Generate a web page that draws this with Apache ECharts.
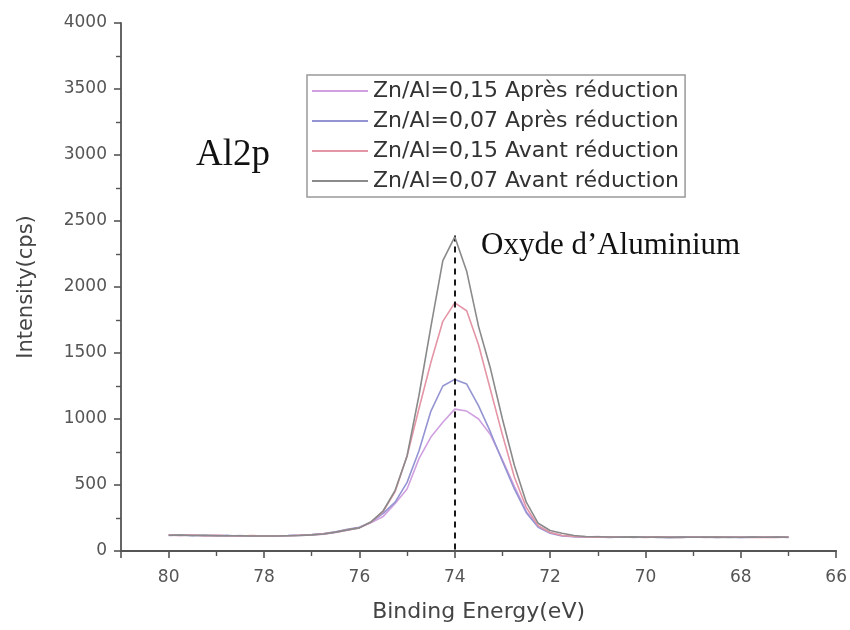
<!DOCTYPE html>
<html>
<head>
<meta charset="utf-8">
<script src="https://cdn.jsdelivr.net/npm/echarts@6/dist/echarts.min.js"></script>
<style>html,body{margin:0;padding:0;background:#fff}#c{width:850px;height:630px}</style>
</head>
<body>
<div id="c"></div>
<script>
const energies = [80,79.75,79.5,79.25,79,78.75,78.5,78.25,78,77.75,77.5,77.25,77,76.75,76.5,76.25,76,75.75,75.5,75.25,75,74.75,74.5,74.25,74,73.75,73.5,73.25,73,72.75,72.5,72.25,72,71.75,71.5,71.25,71,70.75,70.5,70.25,70,69.75,69.5,69.25,69,68.75,68.5,68.25,68,67.75,67.5,67.25,67];
const seriesNames = ["Zn/Al=0,15 Après réduction","Zn/Al=0,07 Après réduction","Zn/Al=0,15 Avant réduction","Zn/Al=0,07 Avant réduction"];
const apres015 = [122,118,121,116,119,114,117,112,115,113,116,118,121,128,140,158,178,215,262,360,470,700,863,975,1075,1060,1000,880,690,490,300,190,140,118,110,106,109,104,108,103,107,105,102,106,104,108,103,106,102,105,107,104,108];
const apres007 = [118,121,116,119,115,118,113,116,112,115,117,120,124,132,145,165,180,220,285,370,520,760,1060,1250,1300,1265,1100,900,680,470,290,180,135,114,108,105,107,103,106,104,108,102,105,103,107,104,102,106,103,105,104,107,103];
const avant015 = [120,117,121,115,118,116,114,117,113,116,115,119,123,130,142,160,175,220,300,450,720,1080,1430,1740,1880,1820,1560,1220,880,560,330,190,140,118,110,107,105,108,104,106,103,107,105,102,106,103,107,104,106,102,105,103,106];
const avant007 = [119,120,117,118,116,115,115,114,114,114,116,117,122,129,143,160,175,222,305,460,720,1180,1700,2200,2380,2120,1700,1380,1000,650,370,210,155,135,118,110,108,106,105,107,104,106,103,105,104,106,105,103,104,106,104,105,104];
const colors = ["#d0a0e0","#9494d2","#e495a6","#8a8a8a"];
const yTicks = {min:0, max:4000, interval:500};
const xTicks = {min:66, max:81, interval:2};
const peakMarker = {x:74, y:2390, label:"Oxyde d\u2019Aluminium"};
const panelLabel = "Al2p";

const allData = [apres015, apres007, avant015, avant007];
const chart = echarts.init(document.getElementById('c'), null, {renderer:'canvas'});
const series = allData.map((vals,i)=>({
  name: seriesNames[i],
  type:'line',
  data: energies.map((e,j)=>[e, vals[j]]),
  showSymbol:false,
  symbol:'none',
  lineStyle:{color:colors[i], width:1.6},
  itemStyle:{color:colors[i]},
  z: 2+i
}));
series.push({
  name:'marker', type:'line', data:[], silent:true,
  markLine:{
    symbol:['none','none'], silent:true,
    lineStyle:{color:'#000', type:[6,5], width:1.8},
    label:{show:false},
    data:[[{coord:[peakMarker.x, peakMarker.y]},{coord:[peakMarker.x, 0]}]]
  },
  z:10
});
const sans = 'DejaVu Sans';
chart.setOption({
  animation:false,
  backgroundColor:'#fff',
  color: colors,
  grid:{left:121, right:10, top:23, bottom:79, containLabel:false},
  legend:{
    data: seriesNames,
    orient:'vertical',
    left:307, top:75,
    itemWidth:56, itemHeight:2, itemGap:2,
    icon:'rect',
    borderColor:'#999', borderWidth:1.5, borderRadius:0,
    padding:[2,6,2,5],
    textStyle:{fontFamily:sans, fontSize:22, color:'#333', lineHeight:28}
  },
  xAxis:{
    type:'value', inverse:true, min:xTicks.min, max:xTicks.max, interval:xTicks.interval,
    name:'Binding Energy(eV)', nameLocation:'middle', nameGap:50,
    nameTextStyle:{fontFamily:sans, fontSize:22, color:'#444'},
    axisLine:{onZero:false, lineStyle:{color:'#555', width:1.8}},
    axisTick:{show:true, inside:false, length:7, lineStyle:{color:'#555', width:1.6}},
    minorTick:{show:true, splitNumber:2, length:5, lineStyle:{color:'#555', width:1.4}},
    axisLabel:{fontFamily:sans, fontSize:17, color:'#555', margin:18,
      formatter:(v)=> (v%2===0 ? String(v) : '')},
    splitLine:{show:false}
  },
  yAxis:{
    type:'value', min:yTicks.min, max:yTicks.max, interval:yTicks.interval,
    name:'Intensity(cps)', nameLocation:'middle', nameGap:84,
    nameTextStyle:{fontFamily:sans, fontSize:21, color:'#444'},
    axisLine:{show:true, lineStyle:{color:'#555', width:1.8}},
    axisTick:{show:true, length:7, lineStyle:{color:'#555', width:1.6}},
    minorTick:{show:true, splitNumber:2, length:5, lineStyle:{color:'#555', width:1.4}},
    axisLabel:{fontFamily:sans, fontSize:17, color:'#555', margin:14, formatter:(v)=>String(v)},
    splitLine:{show:false}
  },
  graphic:[
    {type:'text', left:196, top:137, style:{text:panelLabel, font:'37px "Liberation Serif"', fill:'#111'}},
    {type:'text', left:481, top:230, style:{text:peakMarker.label, font:'31px "Liberation Serif"', fill:'#111'}}
  ],
  series: series
});
</script>
</body>
</html>
